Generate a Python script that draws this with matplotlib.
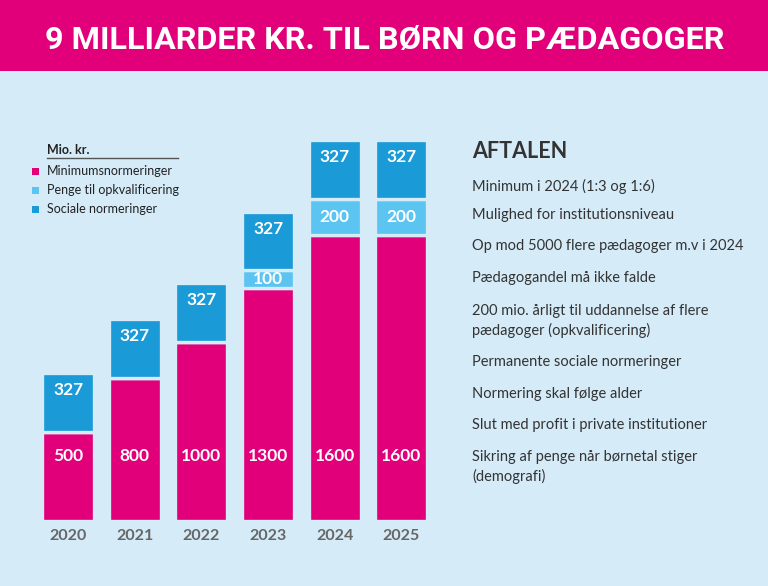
import matplotlib
matplotlib.use('Agg')
import matplotlib.pyplot as plt
from matplotlib.patches import Rectangle
import numpy as np

years = ['2020', '2021', '2022', '2023', '2024', '2025']
minimum = [500, 800, 1000, 1300, 1600, 1600]      # Minimumsnormeringer
opkval = [0, 0, 0, 100, 200, 200]                  # Penge til opkvalificering
sociale = [327, 327, 327, 327, 327, 327]           # Sociale normeringer

series_names = ['Minimumsnormeringer', 'Penge til opkvalificering', 'Sociale normeringer']
colors = ['#E2007A', '#5BC4F1', '#1A9AD6']

aftalen = [
    'Minimum i 2024 (1:3 og 1:6)',
    'Mulighed for institutionsniveau',
    'Op mod 5000 flere pædagoger m.v i 2024',
    'Pædagogandel må ikke falde',
    '200 mio. årligt til uddannelse af flere\npædagoger (opkvalificering)',
    'Permanente sociale normeringer',
    'Normering skal følge alder',
    'Slut med profit i private institutioner',
    'Sikring af penge når børnetal stiger\n(demografi)',
]

bg = '#D5EBF8'
W, H = 768, 586
plt.rcParams['font.family'] = ['Lato', 'DejaVu Sans']

fig = plt.figure(figsize=(W / 100, H / 100), dpi=100, facecolor=bg)

# pink banner with title
fig.patches.append(Rectangle((0, 1 - 71 / H), 1, 71 / H, transform=fig.transFigure,
                             facecolor='#E2007A', edgecolor='none', zorder=0))
fig.text(385 / W, 1 - 40 / H, '9 MILLIARDER KR. TIL BØRN OG PÆDAGOGER', color='white',
         ha='center', va='center', fontsize=23.3, fontweight='bold',
         family=['Roboto', 'DejaVu Sans'])

# bar axes: slot width ~66.6 px, baseline at y=521 px
ax = fig.add_axes([34.7 / W, 65 / H, 400 / W, 400 / H])
ax.set_facecolor('none')
x = np.arange(len(years))
ymax = 400 / 0.179
ax.set_xlim(-0.5, 5.5)
ax.set_ylim(0, ymax)
for s in ax.spines.values():
    s.set_visible(False)
ax.set_yticks([])
ax.set_xticks(x)
ax.set_xticklabels(years, fontsize=11.5, fontweight='bold', color='#666666')
ax.tick_params(axis='x', length=0, pad=6)

bw = 0.78
minimum = np.array(minimum)
opkval = np.array(opkval)
sociale = np.array(sociale)
bottom = np.zeros(len(years))
for vals, c in zip([minimum, opkval, sociale], colors):
    ax.bar(x, vals, bw, bottom=bottom, color=c, edgecolor=bg, linewidth=2.4)
    bottom = bottom + vals

lbl = dict(color='white', fontsize=12.5, fontweight='bold', ha='center', va='center')
for i in range(len(years)):
    ax.annotate(str(minimum[i]), (x[i], 0), xytext=(0, 47), textcoords='offset points', **lbl)
    if opkval[i] > 0:
        ax.text(x[i], minimum[i] + opkval[i] / 2, str(opkval[i]), **lbl)
    top = minimum[i] + opkval[i] + sociale[i]
    ax.annotate(str(sociale[i]), (x[i], top), xytext=(0, -12), textcoords='offset points', **lbl)

# legend
fig.text(47 / W, 1 - 150 / H, 'Mio. kr.', fontsize=9, fontweight='bold', color='#222222', va='center')
fig.add_artist(plt.Line2D([47 / W, 178 / W], [1 - 158 / H, 1 - 158 / H], color='#555555', lw=1))
for k, (name, c) in enumerate(zip(series_names, colors)):
    yy = 1 - (171 + 19 * k) / H
    fig.patches.append(Rectangle((32 / W, yy - 3.5 / H), 7 / W, 7 / H, transform=fig.transFigure,
                                 facecolor=c, edgecolor='none'))
    fig.text(47 / W, yy, name, fontsize=9, color='#222222', va='center')

# right panel
fig.text(472 / W, 1 - 152 / H, 'AFTALEN', fontsize=15.5, fontweight='bold', color='#333333', va='center')
item_y = [185, 214, 245, 277, 310, 361, 393, 424, 456]
for t, yy in zip(aftalen, item_y):
    fig.text(472 / W, 1 - (yy - 6) / H, t, fontsize=10.5, color='#333333', va='top', linespacing=1.45)

fig.savefig('out.png', dpi=100, facecolor=bg)
